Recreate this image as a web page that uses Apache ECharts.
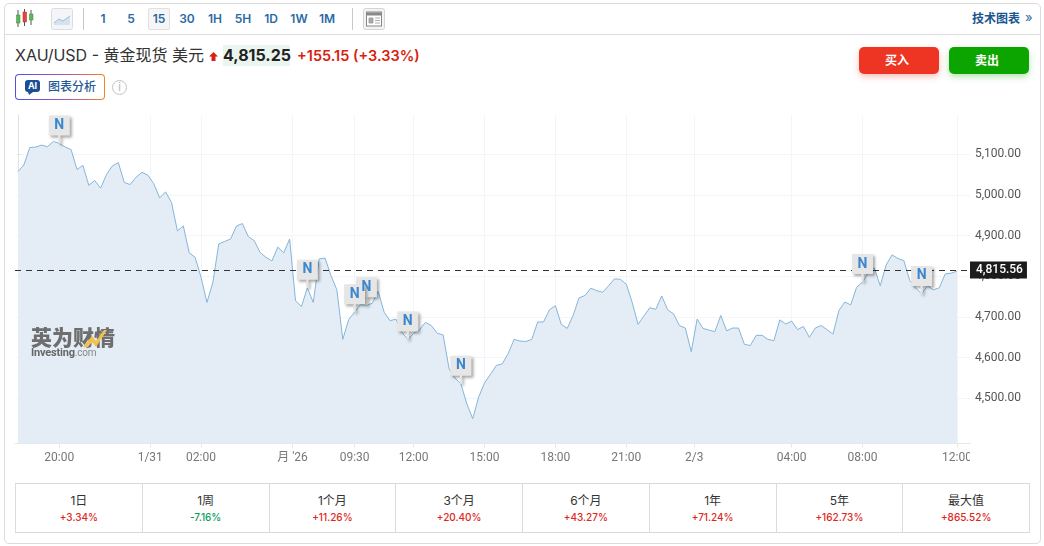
<!DOCTYPE html>
<html>
<head>
<meta charset="utf-8">
<script src="https://cdn.jsdelivr.net/npm/echarts@6/dist/echarts.min.js"></script>
<style>
  * { box-sizing: border-box; }
  html, body { margin: 0; width: 1044px; height: 546px; background: #fff; overflow: hidden; font-family: Inter, "Noto Sans CJK SC", sans-serif; }
  .abs { position: absolute; white-space: nowrap; }
  #card { left: 4px; top: 3px; width: 1037px; height: 541px; border: 1px solid #dcdcdc; border-radius: 5px; }
  #toolbar-line { left: 5px; top: 34px; width: 1035px; height: 1px; background: #dcdcdc; }
  .divider { top: 8px; width: 1px; height: 22px; background: #c8c8c8; }
  .res { top: 8px; width: 22px; height: 22px; line-height: 22px; text-align: center; font-size: 12px; font-weight: 600; color: #2a6aa5; }
  .res.on { border: 1px solid #e0e0e0; border-radius: 2px; background: #f6f6f6; line-height: 20px; }
  #chart { left: 0; top: 110px; width: 1044px; height: 365px; }
  #title { left: 15px; top: 45px; font-size: 16px; line-height: 21px; color: #333; }
  #price { left: 223px; top: 45px; width: 67px; height: 21px; line-height: 21px; text-align: center; font-size: 16px; font-weight: 700; color: #222; background: #ebf5f0; }
  #change { left: 297px; top: 45px; line-height: 21px; font-size: 14.500px; font-weight: 600; color: #d8210f; }
  #ai { left: 15px; top: 74px; width: 90px; height: 26px; border-radius: 4px; padding: 1px; background: linear-gradient(90deg, #4a55d8, #a24fc0 50%, #f5831f); }
  #ai div { width: 100%; height: 100%; background: #fff; border-radius: 3px; }
  #ai-text { left: 48px; top: 79px; font-size: 12px; line-height: 16px; font-weight: 500; color: #1f5a96; }
  #ai-badge { left: 25px; top: 80px; width: 15px; height: 12px; border-radius: 3px; background: #1a4f96; color: #fff; font-size: 9px; font-weight: 700; line-height: 12px; text-align: center; }
  #info { left: 112px; top: 80px; width: 15px; height: 15px; border: 1px solid #c4c4c4; border-radius: 50%; color: #b5b5b5; font-size: 11px; line-height: 13px; text-align: center; }
  .btn { top: 47px; width: 80px; height: 27px; border-radius: 5px; padding-right: 4px; color: #fff; font-size: 12px; font-weight: 700; line-height: 27px; text-align: center; }
  #buy { left: 859px; background: #ee3524; box-shadow: 0 3px 6px rgba(238,53,36,.3); }
  #sell { left: 949px; background: #0ca500; box-shadow: 0 3px 6px rgba(12,165,0,.3); }
  #tech { left: 972px; top: 10px; font-size: 12px; line-height: 17px; font-weight: 700; color: #1b5590; }
  #tech-arrow { left: 1025px; top: 9px; font-size: 13px; line-height: 17px; color: #2a6aa5; }
  #logo-cn { left: 31px; top: 324px; font-size: 21px; line-height: 28px; font-weight: 900; color: #6e6e6e; }
  #logo-en { left: 31px; top: 346px; font-family: Roboto, sans-serif; font-size: 11px; line-height: 13px; font-weight: 700; color: #666; letter-spacing: -.2px; }
  #logo-en span { font-weight: 400; color: #888; font-size: 10px; }
  #perf { left: 15px; top: 483px; width: 1015px; height: 50px; border: 1px solid #d8dce0; display: flex; }
  #perf .cell { flex: 1 1 0; text-align: center; border-right: 1px solid #d8dce0; }
  #perf .cell:last-child { border-right: none; }
  #perf .name { margin-top: 9px; font-size: 12px; line-height: 15px; color: #333; }
  #perf .pct { margin-top: 2px; font-size: 10px; line-height: 14px; font-weight: 500; }
</style>
</head>
<body>
<div class="abs" id="card"></div>
<div class="abs" id="toolbar-line"></div>

<svg class="abs" style="left:15px;top:9px" width="19" height="19">
  <path d="M3 1v17M9.500 0v17M16 1v15" stroke="#555" stroke-width="1"/>
  <rect x="1.500" y="6" width="3.500" height="8" fill="#5cb85c" stroke="#3d8b3d" stroke-width=".5"/>
  <rect x="8" y="3" width="3.500" height="10" fill="#e2483d" stroke="#b03028" stroke-width=".5"/>
  <rect x="14.500" y="5" width="3.500" height="6" fill="#5cb85c" stroke="#3d8b3d" stroke-width=".5"/>
</svg>
<svg class="abs" style="left:51px;top:8px" width="22" height="22">
  <rect x=".5" y=".5" width="21" height="21" rx="2" fill="#f3f5f8" stroke="#dcdcdc"/>
  <path d="M3 15l5-4 4 2 7-5v9H3z" fill="#d5e2ef"/>
  <path d="M3 15l5-4 4 2 7-5" fill="none" stroke="#9dbbd6"/>
</svg>
<div class="abs divider" style="left:83px"></div>
<div id="resolutions"></div>
<div class="abs divider" style="left:352px"></div>
<svg class="abs" style="left:363px;top:8px" width="22" height="22">
  <rect x=".5" y=".5" width="21" height="21" rx="2" fill="#f3f3f3" stroke="#d4d4d4"/>
  <rect x="3.500" y="4" width="15" height="14" fill="#fff" stroke="#888"/>
  <rect x="4" y="4.500" width="14" height="3" fill="#888"/>
  <path d="M6 10h4v5H6zM12 10h5M12 12.500h5M12 15h5" fill="#aaa" stroke="#999" stroke-width=".8"/>
</svg>
<div class="abs" id="tech">技术图表</div>
<div class="abs" id="tech-arrow">»</div>

<div class="abs" id="title">XAU/USD - 黄金现货 美元</div>
<svg class="abs" style="left:209px;top:52px" width="9" height="9"><path d="M4.500 0L9 4.500H6.500V9h-4V4.500H0z" fill="#d8210f"/></svg>
<div class="abs" id="price">4,815.25</div>
<div class="abs" id="change">+155.15 (+3.33%)</div>
<div class="abs" id="ai"><div></div></div>
<div class="abs" id="ai-badge">AI</div>
<svg class="abs" style="left:28px;top:92px" width="5" height="3"><path d="M0 0h5L1 3z" fill="#1a4f96"/></svg>
<div class="abs" id="ai-text">图表分析</div>
<div class="abs" id="info">i</div>
<div class="abs btn" id="buy">买入</div>
<div class="abs btn" id="sell">卖出</div>

<div class="abs" id="chart"></div>

<div class="abs" id="logo-cn">英为财情</div>
<svg class="abs" style="left:83px;top:330px" width="24" height="18"><path d="M0 17L9 6l4 5 8-11h3L13 17 9 12l-4 5z" fill="#f2c14e"/></svg>
<div class="abs" id="logo-en">Investing<span>.com</span></div>

<div class="abs" id="perf"></div>

<script>
const RESOLUTIONS = ['1', '5', '15', '30', '1H', '5H', '1D', '1W', '1M'];
const ACTIVE_RESOLUTION = '15';

const PERIOD_NAMES = ['1日', '1周', '1个月', '3个月', '6个月', '1年', '5年', '最大值'];
const PERIOD_CHANGES = ['+3.34%', '-7.16%', '+11.26%', '+20.40%', '+43.27%', '+71.24%', '+162.73%', '+865.52%'];

// one value per 15 min bar
const PRICES = [
  5058, 5074, 5117, 5118, 5123, 5119, 5132, 5127, 5118, 5112,
  5063, 5073, 5024, 5036, 5017, 5051, 5072, 5080, 5031, 5026,
  5044, 5056, 5049, 5028, 4993, 5008, 4982, 4912, 4924, 4858,
  4847, 4798, 4736, 4785, 4880, 4886, 4892, 4924, 4930, 4898,
  4888, 4859, 4847, 4838, 4872, 4858, 4892, 4740, 4726, 4772,
  4736, 4843, 4845, 4802, 4767, 4645, 4694, 4712, 4731, 4729,
  4734, 4763, 4712, 4691, 4695, 4663, 4645, 4660, 4669, 4687,
  4679, 4660, 4656, 4573, 4550, 4536, 4487, 4450, 4503, 4538,
  4559, 4581, 4585, 4610, 4645, 4641, 4640, 4645, 4688, 4688,
  4718, 4728, 4682, 4672, 4704, 4747, 4753, 4771, 4765, 4761,
  4777, 4794, 4793, 4781, 4736, 4682, 4703, 4723, 4719, 4752,
  4718, 4708, 4679, 4673, 4615, 4695, 4672, 4668, 4664, 4704,
  4666, 4673, 4673, 4633, 4630, 4655, 4655, 4645, 4642, 4693,
  4683, 4690, 4669, 4677, 4650, 4673, 4679, 4669, 4658, 4716,
  4737, 4730, 4773, 4786, 4810, 4821, 4777, 4828, 4853, 4844,
  4839, 4790, 4772, 4757, 4777, 4767, 4772, 4806, 4808, 4813
];

const LAST_PRICE = 4815.56;

const X_TICKS = [7, 22.4, 31, 46.5, 57, 67, 79, 91, 103, 114.5, 131, 143, 159];
const X_LABELS = ['20:00', '1/31', '02:00', "月 '26", '09:30', '12:00', '15:00', '18:00', '21:00', '2/3', '04:00', '08:00', '12:00'];
const Y_TICKS = [4500, 4600, 4700, 4800, 4900, 5000, 5100];

// bars with a news flag, later ones are drawn on top
const NEWS_BARS = [7, 49, 59, 57, 66, 75, 143, 153];

const GRID_COLOR = '#f3f5f8';
const FLAG_PATH = 'path://M0 0H20V20H11V28H9V20H0Z';

function money(v) {
  return v.toLocaleString('en-US', { minimumFractionDigits: 2, maximumFractionDigits: 2 });
}

function renderToolbar() {
  const box = document.getElementById('resolutions');
  RESOLUTIONS.forEach((r, i) => {
    const el = document.createElement('div');
    el.className = 'abs res' + (r === ACTIVE_RESOLUTION ? ' on' : '');
    el.style.left = (92 + i * 28) + 'px';
    el.textContent = r;
    box.appendChild(el);
  });
}

function renderPerf() {
  const box = document.getElementById('perf');
  PERIOD_NAMES.forEach((name, i) => {
    const up = PERIOD_CHANGES[i][0] === '+';
    const cell = document.createElement('div');
    cell.className = 'cell';
    cell.innerHTML = `<div class="name">${name}</div><div class="pct" style="color:${up ? '#e0261a' : '#0a9a5c'}">${PERIOD_CHANGES[i]}</div>`;
    box.appendChild(cell);
  });
}

function renderChart() {
  const chart = echarts.init(document.getElementById('chart'));
  chart.setOption({
    animation: false,
    textStyle: { fontFamily: 'Roboto, "Noto Sans CJK SC", sans-serif' },
    grid: { left: 15, right: 74, top: 5, height: 328.5 },
    xAxis: {
      type: 'value',
      min: -0.5,
      max: 161.2,
      axisLine: { onZero: false, lineStyle: { color: '#e3e6ea' } },
      axisTick: { customValues: X_TICKS, length: 4, lineStyle: { color: '#e3e6ea' } },
      axisLabel: {
        customValues: X_TICKS,
        formatter: v => X_LABELS[X_TICKS.indexOf(v)],
        color: '#777',
        fontFamily: 'Roboto, "Noto Sans CJK SC", sans-serif',
        fontSize: 12,
        margin: 8,
        hideOverlap: false
      },
      splitLine: { show: true, lineStyle: { color: GRID_COLOR } }
    },
    yAxis: {
      type: 'value',
      position: 'right',
      min: 4389,
      max: 5197,
      axisLine: { show: true, lineStyle: { color: '#dfe2e6' } },
      axisTick: { show: true, customValues: Y_TICKS, length: 3, lineStyle: { color: '#dfe2e6' } },
      axisLabel: {
        customValues: Y_TICKS,
        formatter: money,
        color: '#555',
        fontFamily: 'Roboto, sans-serif',
        fontSize: 12,
        margin: 5,
        padding: [4, 0, 0, 0]
      },
      splitLine: { show: true, lineStyle: { color: GRID_COLOR } }
    },
    graphic: [{
      // the last x label is cut off at the plot edge
      type: 'rect',
      z: 100,
      shape: { x: 970, y: 337, width: 30, height: 25 },
      style: { fill: '#fff' }
    }],
    series: [{
      type: 'line',
      data: PRICES.map((p, i) => [i, p]),
      symbol: 'none',
      lineStyle: { color: '#84b5dc', width: 1 },
      areaStyle: { color: '#e4edf5', opacity: 1, origin: 'start' },
      markLine: {
        silent: true,
        symbol: 'none',
        lineStyle: { color: '#333', type: [6, 5], width: 1 },
        label: {
          position: 'end',
          distance: 0,
          formatter: () => money(LAST_PRICE),
          color: '#fff',
          fontFamily: 'Roboto, sans-serif',
          fontSize: 12,
          fontWeight: 500,
          backgroundColor: '#1c1c1c',
          padding: [3, 4, 2, 6]
        },
        data: [{ yAxis: LAST_PRICE }]
      },
      markPoint: {
        silent: true,
        symbol: FLAG_PATH,
        symbolSize: [21, 28],
        symbolOffset: [0, '-50%'],
        itemStyle: {
          color: '#e6e6e6',
          shadowColor: 'rgba(0,0,0,.35)',
          shadowBlur: 3,
          shadowOffsetX: 2,
          shadowOffsetY: 2
        },
        label: {
          formatter: 'N',
          color: '#3b87cf',
          fontFamily: 'Roboto, sans-serif',
          fontSize: 14,
          fontWeight: 700,
          offset: [0, -4]
        },
        data: NEWS_BARS.map(i => ({ coord: [i, PRICES[i]] }))
      }
    }]
  });
}

renderToolbar();
renderPerf();
renderChart();
</script>
</body>
</html>
